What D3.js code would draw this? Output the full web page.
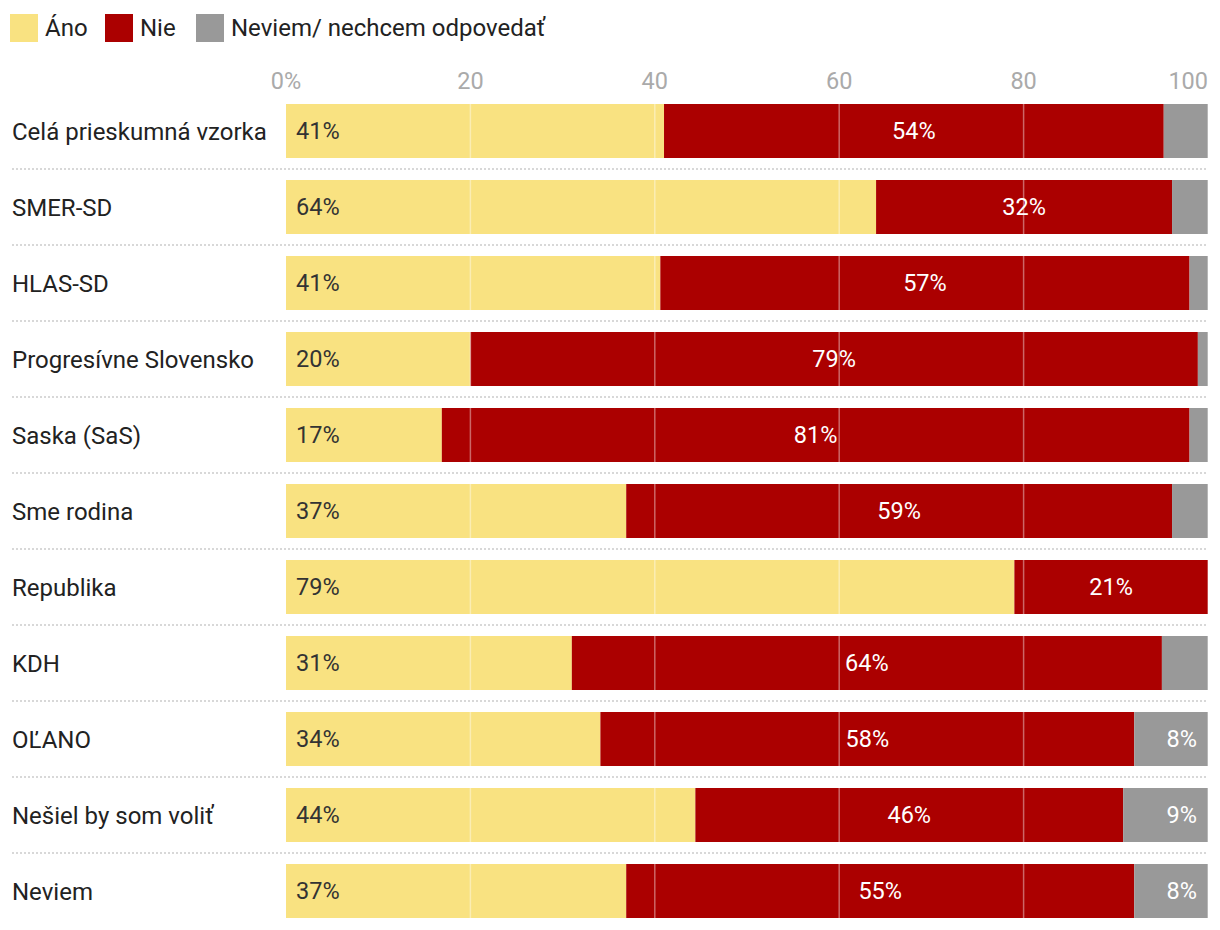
<!DOCTYPE html>
<html>
<head>
<meta charset="utf-8">
<script src="https://cdn.jsdelivr.net/npm/d3@7"></script>
<style>
  body { margin: 0; background: #fff; }
  svg { display: block; font-family: Roboto, "Noto Sans", sans-serif; }
</style>
</head>
<body>
<svg id="chart" width="1220" height="930"></svg>
<script>
const categories = ["Celá prieskumná vzorka", "SMER-SD", "HLAS-SD", "Progresívne Slovensko", "Saska (SaS)", "Sme rodina", "Republika", "KDH", "OĽANO", "Nešiel by som voliť", "Neviem"];
const ano    = [41.0, 64.0, 40.6, 20.0, 16.9, 36.9, 79.0, 31.0, 34.1, 44.4, 36.9];
const nie    = [54.2, 32.1, 57.4, 78.9, 81.1, 59.2, 21.0, 64.0, 57.9, 46.4, 55.1];
const neviem = [4.8, 3.9, 2.0, 1.1, 2.0, 3.9, 0.0, 5.0, 8.0, 9.2, 8.0];
const seriesNames = ["Áno", "Nie", "Neviem/ nechcem odpovedať"];
const seriesColors = ["#f9e281", "#ab0000", "#999999"];
const labelColors = ["#333333", "#ffffff", "#ffffff"];
const tickValues = [0, 20, 40, 60, 80, 100];
const tickLabels = ["0%", "20", "40", "60", "80", "100"];

const svg = d3.select("#chart");
const x = d3.scaleLinear().domain([0, 100]).range([286, 1208]);
const p = 22 / 76;
const y = d3.scaleBand().domain(categories).range([93, 929]).paddingInner(p).paddingOuter(p / 2);

const rows = categories.map((c, i) => ({ cat: c, s0: ano[i], s1: nie[i], s2: neviem[i] }));
const series = d3.stack().keys(["s0", "s1", "s2"])(rows);

// Legend
const legendX = [10, 105, 196];
const legend = svg.append("g");
seriesNames.forEach((name, i) => {
  legend.append("rect").attr("x", legendX[i]).attr("y", 14).attr("width", 28).attr("height", 28).attr("fill", seriesColors[i]);
  legend.append("text").attr("x", legendX[i] + 35).attr("y", 36).attr("font-size", 24).attr("fill", "#222").text(name);
});

// Axis tick labels
svg.append("g").selectAll("text").data(tickValues).join("text")
  .attr("x", d => x(d))
  .attr("y", 89)
  .attr("text-anchor", d => d === 100 ? "end" : "middle")
  .attr("font-size", 23.5)
  .attr("fill", "#aaaaaa")
  .text((d, i) => tickLabels[i]);

// Separators
svg.append("g").selectAll("line").data(categories.slice(0, -1)).join("line")
  .attr("x1", 12).attr("x2", x(100))
  .attr("y1", d => y(d) + y.bandwidth() + 11)
  .attr("y2", d => y(d) + y.bandwidth() + 11)
  .attr("stroke", "#cccccc").attr("stroke-width", 1.5).attr("stroke-dasharray", "2,2");

// Bars
const gSeries = svg.append("g").selectAll("g").data(series).join("g")
  .attr("fill", (d, i) => seriesColors[i]);
gSeries.selectAll("rect").data(d => d).join("rect")
  .attr("x", d => x(d[0]))
  .attr("width", d => x(d[1]) - x(d[0]))
  .attr("y", d => y(d.data.cat))
  .attr("height", y.bandwidth());

// Gridlines over bars
const grid = svg.append("g");
categories.forEach(c => {
  grid.selectAll(null).data(tickValues.slice(1)).join("line")
    .attr("x1", d => x(d)).attr("x2", d => x(d))
    .attr("y1", y(c)).attr("y2", y(c) + y.bandwidth())
    .attr("stroke", "#ffffff").attr("stroke-opacity", 0.4).attr("stroke-width", 1.5);
});

// Row labels
svg.append("g").selectAll("text").data(categories).join("text")
  .attr("x", 12)
  .attr("y", d => y(d) + y.bandwidth() / 2)
  .attr("dy", "0.36em")
  .attr("font-size", 24)
  .attr("fill", "#222")
  .text(d => d);

// Value labels
series.forEach((s, si) => {
  svg.append("g").selectAll("text").data(s.filter(d => (d[1] - d[0]) >= 6)).join("text")
    .attr("x", d => si === 0 ? x(d[0]) + 10 : si === 1 ? (x(d[0]) + x(d[1])) / 2 : x(d[1]) - 11)
    .attr("y", d => y(d.data.cat) + y.bandwidth() / 2)
    .attr("dy", "0.36em")
    .attr("text-anchor", si === 0 ? "start" : si === 1 ? "middle" : "end")
    .attr("font-size", 23.5)
    .attr("fill", labelColors[si])
    .text(d => Math.round(d[1] - d[0]) + "%");
});
</script>
</body>
</html>
